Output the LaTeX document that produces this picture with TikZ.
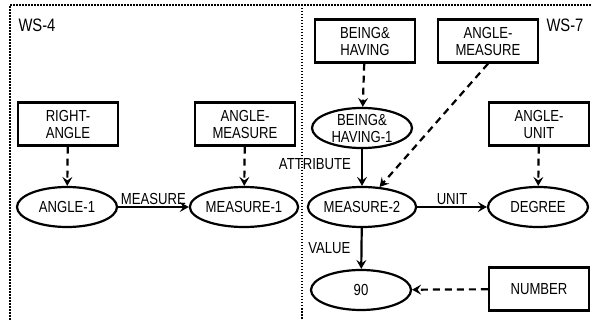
\documentclass[tikz,border=0pt]{standalone}
\usepackage{fontspec}
\setmainfont{Liberation Sans}[FakeStretch=0.82]
\usetikzlibrary{shapes.geometric, arrows.meta}
\tikzstyle{every node} = [font=\fontsize{16}{17}\selectfont, align=center]
\tikzstyle{typebox} = [draw, line width=2.4pt, rectangle, minimum width=100pt, minimum height=43pt, inner sep=0pt]
\tikzstyle{token} = [draw, line width=2.2pt, ellipse, minimum width=100pt, minimum height=40pt, inner sep=0pt]
\tikzstyle{relation} = [line width=2.2pt, -{Stealth[length=9pt, width=10pt, inset=3.5pt]}]
\tikzstyle{typeof} = [relation, dash pattern=on 7pt off 5pt]
\tikzstyle{wsborder} = [line width=2pt, dash pattern=on 1.5pt off 1.5pt]

\begin{document}
\begin{tikzpicture}[x=1pt, y=-1pt]
        \useasboundingbox (0,0) rectangle (592,320);
        % workspaces
        \draw[wsborder] (10,320) -- (10,5) -- (592,5);
        \draw[wsborder] (302,5) -- (302,320);
        \node[font=\fontsize{18}{20}\selectfont] (ws4) at (37,25) {WS-4};
        \node[font=\fontsize{18}{20}\selectfont] (ws7) at (565,25) {WS-7};

        % WS-4
        \node[typebox] (ra) at (68,124) {RIGHT-\\ANGLE};
        \node[typebox] (aml) at (245,124) {ANGLE-\\MEASURE};
        \node[token] (a1) at (67,207) {ANGLE-1};
        \node[token] (m1) at (244,207) {MEASURE-1};
        \draw[typeof] (ra) -- (a1);
        \draw[typeof] (aml) -- (m1);
        \draw[relation] (a1) -- node[above, inner sep=1pt] {MEASURE} (m1);

        % WS-7
        \node[typebox] (bh) at (365,41) {BEING\&\\HAVING};
        \node[typebox] (amr) at (488,41) {ANGLE-\\MEASURE};
        \node[token] (bh1) at (362,128) {BEING\&\\HAVING-1};
        \node[typebox] (au) at (539,124) {ANGLE-\\UNIT};
        \node[token] (m2) at (362,207) {MEASURE-2};
        \node[token] (deg) at (538,207) {DEGREE};
        \node[token] (n90) at (361,290) {90};
        \node[typebox] (num) at (539,289) {NUMBER};
        \draw[typeof] (bh) -- (bh1);
        \draw[typeof] (amr.south) -- (m2);
        \draw[typeof] (au) -- (deg);
        \draw[typeof] (num) -- (n90);
        \draw[relation] (bh1) -- node[left, pos=0.4, inner sep=10pt] {ATTRIBUTE} (m2);
        \draw[relation] (m2) -- node[above, inner sep=1pt] {UNIT} (deg);
        \draw[relation] (m2) -- node[left, inner sep=10pt] {VALUE} (n90);
\end{tikzpicture}
\end{document}
